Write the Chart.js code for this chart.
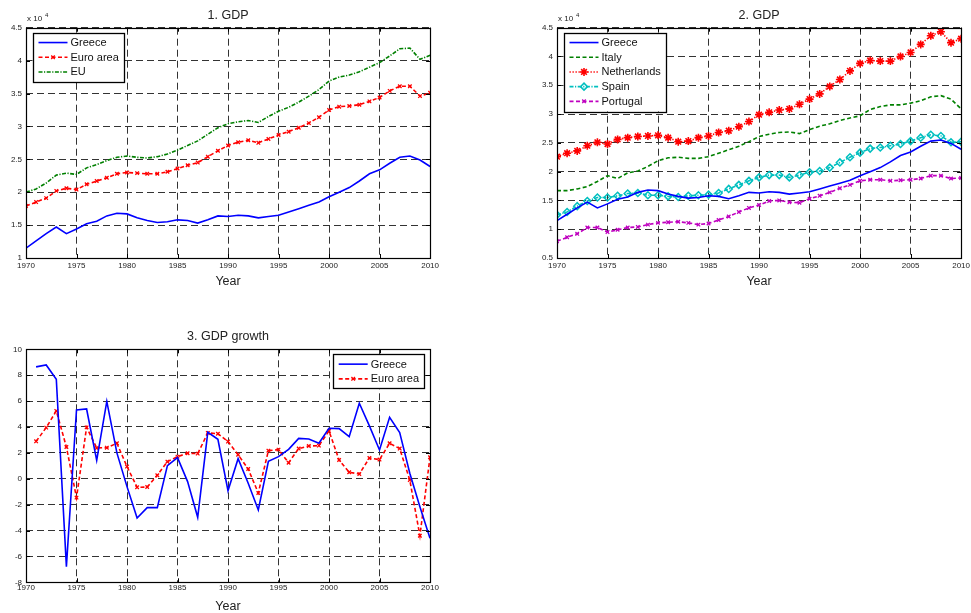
<!DOCTYPE html>
<html lang="en">
<head>
  <meta charset="UTF-8" />
  <script src="https://cdn.jsdelivr.net/npm/chart.js"></script>
  <title>GDP</title>
  <style>
    body { margin: 0; background: #fff; overflow: hidden; }
    .box { position: absolute; }
  </style>
</head>
<body>
  <div class="box" style="left:0;top:0;"><canvas id="c1" width="442" height="300"></canvas></div>
  <div class="box" style="left:531px;top:0;"><canvas id="c2" width="442" height="300"></canvas></div>
  <div class="box" style="left:0;top:320px;"><canvas id="c3" width="440" height="295"></canvas></div>

  <script>
    // GDP levels in units of 10^4, 1970..2010
    const years = [];
    for (let y = 1970; y <= 2010; y++) years.push(y);
    const growthYears = years.slice(1);

    const greece = [1.15, 1.26, 1.37, 1.47, 1.37, 1.44, 1.52, 1.56, 1.64, 1.68, 1.67, 1.61, 1.57, 1.54, 1.55, 1.58, 1.57, 1.53,
      1.58, 1.64, 1.63, 1.65, 1.64, 1.61, 1.63, 1.65, 1.70, 1.75, 1.80, 1.85, 1.93, 2.00, 2.07, 2.17, 2.28, 2.34, 2.44, 2.53, 2.55, 2.49, 2.39];
    const euroArea = [1.79, 1.85, 1.91, 2.02, 2.06, 2.04, 2.12, 2.17, 2.22, 2.28, 2.30, 2.29, 2.28, 2.28, 2.31, 2.36, 2.41, 2.45,
      2.54, 2.63, 2.71, 2.76, 2.79, 2.75, 2.81, 2.87, 2.92, 2.98, 3.05, 3.14, 3.25, 3.30, 3.31, 3.33, 3.38, 3.44, 3.54, 3.61, 3.61, 3.46, 3.51];
    const eu = [2.00, 2.05, 2.14, 2.26, 2.29, 2.27, 2.37, 2.42, 2.48, 2.53, 2.55, 2.53, 2.52, 2.54, 2.58, 2.64, 2.71, 2.78,
      2.88, 2.98, 3.04, 3.07, 3.09, 3.06, 3.15, 3.23, 3.29, 3.37, 3.46, 3.56, 3.69, 3.75, 3.78, 3.83, 3.90, 3.97, 4.07, 4.18, 4.19, 4.02, 4.08];
    const italy = [1.67, 1.67, 1.70, 1.74, 1.83, 1.93, 1.88, 1.98, 2.01, 2.09, 2.19, 2.24, 2.25, 2.23, 2.23, 2.26, 2.32, 2.38,
      2.44, 2.52, 2.61, 2.65, 2.68, 2.69, 2.66, 2.73, 2.79, 2.83, 2.89, 2.93, 2.97, 3.08, 3.13, 3.16, 3.16, 3.19, 3.23, 3.30, 3.32, 3.26, 3.09];
    const netherlands = [2.26, 2.32, 2.36, 2.45, 2.51, 2.48, 2.56, 2.59, 2.61, 2.62, 2.63, 2.59, 2.52, 2.53, 2.59, 2.62, 2.68, 2.71,
      2.78, 2.87, 2.99, 3.03, 3.07, 3.09, 3.17, 3.26, 3.35, 3.48, 3.60, 3.75, 3.88, 3.93, 3.92, 3.92, 4.00, 4.07, 4.21, 4.36, 4.43, 4.24, 4.31];
    const spain = [1.25, 1.30, 1.40, 1.49, 1.55, 1.55, 1.58, 1.62, 1.63, 1.59, 1.59, 1.57, 1.56, 1.58, 1.59, 1.60, 1.63, 1.70,
      1.77, 1.84, 1.90, 1.94, 1.94, 1.90, 1.94, 1.99, 2.01, 2.07, 2.16, 2.25, 2.33, 2.40, 2.42, 2.45, 2.48, 2.53, 2.59, 2.64, 2.62, 2.51, 2.52];
    const portugal = [0.79, 0.86, 0.92, 1.03, 1.03, 0.95, 0.99, 1.03, 1.04, 1.08, 1.11, 1.12, 1.13, 1.11, 1.08, 1.10, 1.16, 1.22,
      1.30, 1.37, 1.42, 1.49, 1.50, 1.47, 1.46, 1.53, 1.58, 1.64, 1.71, 1.77, 1.84, 1.86, 1.86, 1.84, 1.85, 1.86, 1.88, 1.93, 1.93, 1.88, 1.89];

    // GDP growth (%), 1971..2010
    const greeceGrowth = [8.64, 8.79, 7.68, -6.79, 5.31, 5.39, 1.42, 5.98, 2.0, -0.61, -3.03, -2.23, -2.23, 1.01, 1.63, -0.22, -2.98,
      3.59, 3.05, -0.92, 1.55, -0.35, -2.41, 1.35, 1.71, 2.27, 3.12, 3.07, 2.74, 3.90, 3.87, 3.25, 5.83, 4.08, 2.22, 4.75, 3.56, 0.42, -2.16, -4.6];
    const euroGrowth = [2.89, 3.95, 5.24, 2.45, -1.46, 3.97, 2.38, 2.40, 2.74, 0.94, -0.66, -0.64, 0.27, 1.32, 1.71, 1.97, 1.94,
      3.54, 3.48, 2.87, 1.86, 0.75, -1.10, 2.17, 2.25, 1.24, 2.33, 2.53, 2.56, 3.69, 1.45, 0.50, 0.37, 1.60, 1.48, 2.74, 2.33, -0.10, -4.40, 1.66];

    const FONT = '"Liberation Sans", Arial, sans-serif';
    const BLUE = '#0000ff', RED = '#ff0000', GREEN = '#008000', CYAN = '#00bfbf', MAGENTA = '#bf00bf';

    function pts(xs, ys) {
      return ys.map((v, i) => ({ x: xs[i], y: v }));
    }

    function series(label, xs, ys, color, dash, marker, radius, mw) {
      return {
        label: label,
        data: pts(xs, ys),
        borderColor: color,
        backgroundColor: color,
        borderWidth: 1.6,
        borderDash: dash,
        pointStyle: marker || false,
        pointRadius: marker ? radius : 0,
        pointHoverRadius: marker ? radius : 0,
        pointBorderColor: color,
        pointBackgroundColor: 'rgba(0,0,0,0)',
        pointBorderWidth: mw || 1.3,
        tension: 0
      };
    }

    function drawMarker(ctx, style, x, y, r) {
      ctx.beginPath();
      if (style === 'crossRot' || style === 'star') {
        const d = r * Math.SQRT1_2;
        ctx.moveTo(x - d, y - d); ctx.lineTo(x + d, y + d);
        ctx.moveTo(x - d, y + d); ctx.lineTo(x + d, y - d);
      }
      if (style === 'star') {
        ctx.moveTo(x - r, y); ctx.lineTo(x + r, y);
        ctx.moveTo(x, y - r); ctx.lineTo(x, y + r);
      }
      if (style === 'rectRot') {
        ctx.moveTo(x, y - r); ctx.lineTo(x + r, y); ctx.lineTo(x, y + r); ctx.lineTo(x - r, y); ctx.closePath();
      }
      ctx.stroke();
    }

    // MATLAB-like decorations: frame, inner ticks, title, exponent, legend
    const decor = {
      id: 'decor',
      afterDraw(chart, args, opts) {
        const ctx = chart.ctx;
        const a = chart.chartArea;
        const sx = chart.scales.x, sy = chart.scales.y;
        ctx.save();
        ctx.setLineDash([]);
        ctx.strokeStyle = '#000';
        ctx.lineWidth = 1;
        sx.ticks.forEach(t => {
          const px = Math.round(sx.getPixelForValue(t.value)) + 0.5;
          ctx.beginPath();
          ctx.moveTo(px, a.bottom); ctx.lineTo(px, a.bottom - 4);
          ctx.moveTo(px, a.top); ctx.lineTo(px, a.top + 4);
          ctx.stroke();
        });
        sy.ticks.forEach(t => {
          const py = Math.round(sy.getPixelForValue(t.value)) + 0.5;
          ctx.beginPath();
          ctx.moveTo(a.left, py); ctx.lineTo(a.left + 4, py);
          ctx.moveTo(a.right, py); ctx.lineTo(a.right - 4, py);
          ctx.stroke();
        });
        ctx.lineWidth = 1.2;
        ctx.strokeRect(Math.round(a.left) + 0.5, Math.round(a.top) + 0.5, Math.round(a.right - a.left), Math.round(a.bottom - a.top));

        ctx.fillStyle = '#222';
        ctx.textAlign = 'center';
        ctx.textBaseline = 'middle';
        ctx.font = '12.5px ' + FONT;
        ctx.fillText(opts.title, (a.left + a.right) / 2, a.top - 12.5);

        if (opts.expo) {
          ctx.textAlign = 'left';
          ctx.textBaseline = 'alphabetic';
          ctx.font = '8px ' + FONT;
          ctx.fillText('x 10', a.left + 1, a.top - 7);
          ctx.font = '6px ' + FONT;
          ctx.fillText('4', a.left + 19, a.top - 11);
        }

        // legend
        const dsets = chart.data.datasets;
        ctx.font = '11px ' + FONT;
        let maxW = 0;
        dsets.forEach(d => { maxW = Math.max(maxW, ctx.measureText(d.label).width); });
        const w = 38 + maxW + 5;
        const rowH = 14.7, pad = 2.5;
        const h = pad * 2 + rowH * dsets.length;
        const bx = opts.legendRight ? a.right - 6 - w : a.left + 6.5;
        const by = a.top + 5;
        ctx.fillStyle = '#fff';
        ctx.fillRect(bx, by, w, h);
        ctx.lineWidth = 1.3;
        ctx.strokeStyle = '#000';
        ctx.strokeRect(Math.round(bx) + 0.5, Math.round(by) + 0.5, Math.round(w), Math.round(h));
        dsets.forEach((d, i) => {
          const cy = by + pad + rowH * (i + 0.5);
          ctx.strokeStyle = d.borderColor;
          ctx.lineWidth = d.borderWidth;
          ctx.setLineDash(d.borderDash || []);
          ctx.beginPath();
          ctx.moveTo(bx + 6, cy); ctx.lineTo(bx + 35, cy);
          ctx.stroke();
          ctx.setLineDash([]);
          if (d.pointStyle) {
            ctx.lineWidth = d.pointBorderWidth;
            drawMarker(ctx, d.pointStyle, bx + 20.5, cy, d.pointRadius);
          }
          ctx.fillStyle = '#111';
          ctx.textAlign = 'left';
          ctx.textBaseline = 'middle';
          ctx.fillText(d.label, bx + 38, cy + 0.5);
        });
        ctx.restore();
      }
    };

    function makeChart(id, datasets, cfg) {
      new Chart(document.getElementById(id), {
        type: 'line',
        data: { datasets: datasets },
        plugins: [decor],
        options: {
          responsive: false,
          animation: false,
          devicePixelRatio: 1,
          layout: { padding: cfg.padding },
          plugins: {
            legend: { display: false },
            tooltip: { enabled: false },
            decor: { title: cfg.title, expo: cfg.expo, legendRight: cfg.legendRight }
          },
          scales: {
            x: {
              type: 'linear',
              min: 1970,
              max: 2010,
              afterFit: s => { s.height = cfg.xHeight; },
              ticks: {
                stepSize: 5,
                padding: cfg.xTickPad,
                maxRotation: 0,
                color: '#222',
                font: { family: FONT, size: 8 },
                callback: v => String(v)
              },
              grid: { color: '#333', lineWidth: 1, drawTicks: false },
              border: { display: false, dash: [7, 4] },
              title: {
                display: true,
                text: 'Year',
                color: '#222',
                padding: 0,
                font: { family: FONT, size: 12.5 }
              }
            },
            y: {
              min: cfg.yMin,
              max: cfg.yMax,
              afterFit: s => { s.width = 26; },
              ticks: {
                stepSize: cfg.yStep,
                padding: 4,
                color: '#222',
                font: { family: FONT, size: 8 },
                callback: v => String(Math.round(v * 10) / 10)
              },
              grid: { color: '#333', lineWidth: 1, drawTicks: false },
              border: { display: false, dash: [7, 4] }
            }
          }
        }
      });
    }

    makeChart('c1', [
      series('Greece', years, greece, BLUE, []),
      series('Euro area', years, euroArea, RED, [4, 2.5], 'crossRot', 2.5, 1.3),
      series('EU', years, eu, GREEN, [4, 1.5, 1.2, 1.5])
    ], { title: '1. GDP', expo: true, yMin: 1, yMax: 4.5, yStep: 0.5, xHeight: 31.2, xTickPad: 3,
         padding: { top: 27.7, right: 10, bottom: 10.8, left: 0 } });

    makeChart('c2', [
      series('Greece', years, greece, BLUE, []),
      series('Italy', years, italy, GREEN, [4, 2.5]),
      series('Netherlands', years, netherlands, RED, [1.3, 1.7], 'star', 4, 1.6),
      series('Spain', years, spain, CYAN, [4, 1.5, 1.2, 1.5], 'rectRot', 3.5, 1.5),
      series('Portugal', years, portugal, MAGENTA, [4, 2.5], 'crossRot', 2.5, 1.3)
    ], { title: '2. GDP', expo: true, yMin: 0.5, yMax: 4.5, yStep: 0.5, xHeight: 31.2, xTickPad: 3,
         padding: { top: 27.7, right: 10, bottom: 10.8, left: 0 } });

    makeChart('c3', [
      series('Greece', growthYears, greeceGrowth, BLUE, []),
      series('Euro area', growthYears, euroGrowth, RED, [4, 2.5], 'crossRot', 2.5, 1.3)
    ], { title: '3. GDP growth', expo: false, yMin: -8, yMax: 10, yStep: 2, xHeight: 32.2, xTickPad: 1,
         legendRight: true, padding: { top: 29.3, right: 10, bottom: 0.5, left: 0 } });
  </script>
</body>
</html>
